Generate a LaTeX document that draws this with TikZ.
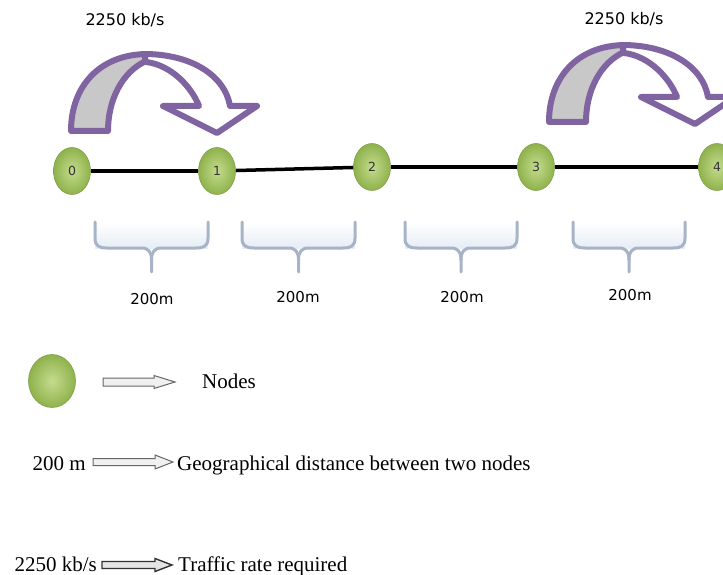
\documentclass[tikz,border=0pt]{standalone}
\usepackage{fontspec}
\setmainfont{Liberation Serif}
\newfontfamily\vsans{DejaVu Sans}
\usetikzlibrary{shapes.geometric}
\definecolor{arrowpurple}{HTML}{8064A2}
\definecolor{arrowgray}{HTML}{C8C8C8}
\definecolor{nodelight}{HTML}{C4DC8E}
\definecolor{nodedark}{HTML}{8FB24C}
\definecolor{nodeedge}{HTML}{80A046}
\definecolor{bracecol}{HTML}{A7B3C6}
\definecolor{bracefill}{HTML}{E6EDF6}
\newcommand\flowarrow{%
  \path[flowshaft] (71,131) .. controls (71,86) and (100,54) .. (148,54)
     -- (146,61) .. controls (122,72) and (108,100) .. (108,131) -- cycle;
  \path[flowhead] (144,54) .. controls (192,54) and (225,76) .. (230,106)
     -- (257,106) -- (217,133) -- (163,106) -- (199,106)
     .. controls (192,88) and (172,65) .. (146,62) -- cycle;
}
\newcommand\mybrace[2]{%
  \pgfmathsetmacro\bm{(#1+#2)/2}%
  \shade[top color=white, bottom color=bracefill] (#1,222) rectangle (#2,248);
  \draw[bracestroke] (#1,222) -- (#1,238) .. controls (#1,246) and (#1+4,248) .. (#1+12,248)
     -- (\bm-10,248) .. controls (\bm-3,248) and (\bm,252) .. (\bm,260) -- (\bm,272);
  \draw[bracestroke] (#2,222) -- (#2,238) .. controls (#2,246) and (#2-4,248) .. (#2-12,248)
     -- (\bm+10,248) .. controls (\bm+3,248) and (\bm,252) .. (\bm,260);
}
\begin{document}
\begin{tikzpicture}[x=1pt,y=-1pt,
  netnode/.style={ellipse, minimum width=37pt, minimum height=47pt, inner sep=0pt,
    draw=nodeedge, line width=0.6pt, inner color=nodelight, outer color=nodedark,
    font=\vsans\fontsize{12.5}{12.5}\selectfont, text=black!80},
  link/.style={line width=3.5pt, black},
  ratelbl/.style={font=\vsans\fontsize{16}{16}\selectfont, inner sep=0pt, anchor=base},
  distlbl/.style={font=\vsans\fontsize{15}{15}\selectfont, inner sep=0pt, anchor=base},
  legtext/.style={font=\fontsize{21}{21}\selectfont, inner sep=0pt},
  flowshaft/.style={fill=arrowgray, draw=arrowpurple, line width=6pt, line join=round},
  flowhead/.style={fill=white, draw=arrowpurple, line width=6pt, line join=round},
  bracestroke/.style={draw=bracecol, line width=3pt, line cap=round},
  legarrow/.style={draw=black!60, fill=black!6, line width=1pt},
  legarrowdark/.style={draw=black!80, fill=black!10, line width=1.4pt}
]
\useasboundingbox (0,0) rectangle (723,575);
\clip (0,0) rectangle (723,575);
\fill[white] (0,0) rectangle (723,575);

% curved traffic arrows
\flowarrow
\begin{scope}[shift={(478,-9)}]
  \flowarrow
\end{scope}
\node[ratelbl] (rate1) at (125,26) {2250 kb/s};
\node[ratelbl] (rate2) at (624,25) {2250 kb/s};

% network nodes
\node[netnode] (n0) at (72,171) {0};
\node[netnode] (n1) at (217,171) {1};
\node[netnode] (n2) at (372,167) {2};
\node[netnode] (n3) at (536,167) {3};
\node[netnode] (n4) at (717,167) {4};
\draw[link, line width=4.5pt] (n0) -- (n1);
\draw[link] (n1) -- (n2);
\draw[link] (n2) -- (n3);
\draw[link] (n3) -- (n4);

% distance braces
\mybrace{95}{208}
\mybrace{242}{355}
\mybrace{405}{517}
\mybrace{573}{685}
\node[distlbl] (d1) at (152,304) {200m};
\node[distlbl] (d2) at (298,302) {200m};
\node[distlbl] (d3) at (462,302) {200m};
\node[distlbl] (d4) at (630,300) {200m};

% legend
\node[netnode, minimum width=47pt, minimum height=53pt] (legnode) at (52,381) {};
\draw[legarrow] (103,378) -- (154,378) -- (154,375.5) -- (175,382) -- (154,388.5) -- (154,386) -- (103,386) -- cycle;
\node[legtext, anchor=base west] (legnodes) at (202,388) {Nodes};

\node[legtext, anchor=base east] (leg200) at (86,470) {200 m};
\draw[legarrow] (93,458.5) -- (155,458.5) -- (155,455) -- (173,462) -- (155,469) -- (155,465.5) -- (93,465.5) -- cycle;
\node[legtext, anchor=base west] (leggeo) at (177,470) {Geographical distance between two nodes};

\node[legtext, anchor=base east] (legrate) at (97,571) {2250 kb/s};
\draw[legarrowdark] (102,561.5) -- (155,561.5) -- (155,558.5) -- (172,565) -- (155,571.5) -- (155,568.5) -- (102,568.5) -- cycle;
\node[legtext, anchor=base west] (legtraffic) at (178,571) {Traffic rate required};
\end{tikzpicture}
\end{document}
